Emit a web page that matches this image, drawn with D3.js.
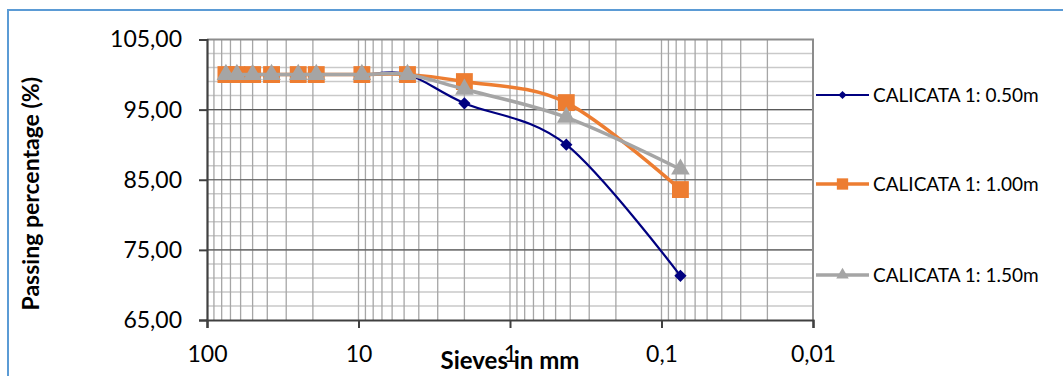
<!DOCTYPE html>
<html>
<head>
<meta charset="utf-8">
<script src="https://cdn.jsdelivr.net/npm/d3@7"></script>
<style>
  body { margin: 0; background: #fff; }
  svg { display: block; font-family: Lato, "Open Sans", sans-serif; }
</style>
</head>
<body>
<div id="chart"></div>
<script>
// Sieve openings (mm) and passing percentages
const sieves = [75, 63.5, 50, 37.5, 25, 19, 9.5, 4.75, 2, 0.425, 0.075];
const calicata050 = [100, 100, 100, 100, 100, 100, 100, 100, 95.9, 90.0, 71.3];
const calicata100 = [100, 100, 100, 100, 100, 100, 100, 100, 99.0, 96.0, 83.6];
const calicata150 = [100, 100, 100, 100, 100, 100, 100, 100, 97.9, 93.9, 86.5];
const seriesNames = ['CALICATA 1: 0.50m', 'CALICATA 1: 1.00m', 'CALICATA 1: 1.50m'];
const xTicks = [100, 10, 1, 0.1, 0.01];
const xTickLabels = ['100', '10', '1', '0,1', '0,01'];
const yTicks = [65, 75, 85, 95, 105];

const width = 1063;
const height = 376;
const plot = { left: 207, right: 813, top: 39.5, bottom: 320 };

const svg = d3
  .select('#chart')
  .append('svg')
  .attr('width', width)
  .attr('height', height);

// outer frame (clipped at right and bottom like the original)
svg
  .append('rect')
  .attr('x', 8)
  .attr('y', 10)
  .attr('width', 1200)
  .attr('height', 500)
  .attr('fill', 'none')
  .attr('stroke', '#5b9bd5')
  .attr('stroke-width', 2);

const x = d3.scaleLog().domain([100, 0.01]).range([plot.left, plot.right]);
const y = d3.scaleLinear().domain([65, 105]).range([plot.bottom, plot.top]);

// minor vertical grid: 2..9 in each decade
const minorX = [];
[10, 1, 0.1, 0.01].forEach((base) => {
  for (let k = 2; k <= 9; k++) minorX.push(base * k);
});

const grid = svg.append('g');

// horizontal minor lines every 2 units
grid
  .selectAll('line.hmin')
  .data(d3.range(67, 105, 2))
  .join('line')
  .attr('x1', plot.left)
  .attr('x2', plot.right)
  .attr('y1', (d) => y(d))
  .attr('y2', (d) => y(d))
  .attr('stroke', '#c9c9c9')
  .attr('stroke-width', 1.5);

grid
  .selectAll('line.vmin')
  .data(minorX.concat([10, 1, 0.1]))
  .join('line')
  .attr('x1', (d) => x(d))
  .attr('x2', (d) => x(d))
  .attr('y1', plot.top)
  .attr('y2', plot.bottom)
  .attr('stroke', '#a6a6a6')
  .attr('stroke-width', 1.3);

// major horizontal lines
grid
  .selectAll('line.hmaj')
  .data([75, 85, 95])
  .join('line')
  .attr('x1', plot.left)
  .attr('x2', plot.right)
  .attr('y1', (d) => y(d))
  .attr('y2', (d) => y(d))
  .attr('stroke', '#595959')
  .attr('stroke-width', 1.2);

// top and right border
svg
  .append('path')
  .attr('d', `M${plot.left},${plot.top}H${plot.right}V${plot.bottom}`)
  .attr('fill', 'none')
  .attr('stroke', '#8c8c8c')
  .attr('stroke-width', 2);

// axes
const yAxis = svg
  .append('g')
  .attr('transform', `translate(${plot.left},0)`)
  .call(
    d3
      .axisLeft(y)
      .tickValues(yTicks)
      .tickSize(8)
      .tickPadding(17)
      .tickFormat((d) => d3.format('.2f')(d).replace('.', ','))
  );

const xAxis = svg
  .append('g')
  .attr('transform', `translate(0,${plot.bottom})`)
  .call(
    d3
      .axisBottom(x)
      .tickValues(xTicks)
      .tickSize(8)
      .tickPadding(18)
      .tickFormat((d, i) => xTickLabels[i])
  );

[yAxis, xAxis].forEach((ax) => {
  ax.select('.domain').attr('stroke', '#404040').attr('stroke-width', 2.2);
  ax.selectAll('.tick line').attr('stroke', '#404040').attr('stroke-width', 2);
  ax.selectAll('.tick text')
    .attr('fill', '#000')
    .style('font-size', '23px')
    .style('font-family', 'Lato, sans-serif');
});

// series (diamond = square turned 45 degrees)
const series = [
  { name: seriesNames[0], values: calicata050, color: '#000080', width: 2.2, symbol: d3.symbolSquare, size: 75, rot: 45 },
  { name: seriesNames[1], values: calicata100, color: '#ed7d31', width: 3.5, symbol: d3.symbolSquare, size: 285, rot: 0 },
  { name: seriesNames[2], values: calicata150, color: '#a5a5a5', width: 3.5, symbol: d3.symbolTriangle, size: 150, rot: 0 },
];

const line = d3
  .line()
  .x((d) => x(d[0]))
  .y((d) => y(d[1]))
  .curve(d3.curveCatmullRom.alpha(0));

series.forEach((s) => {
  const pts = sieves.map((v, i) => [v, s.values[i]]);
  const g = svg.append('g');
  g.append('path')
    .attr('d', line(pts))
    .attr('fill', 'none')
    .attr('stroke', s.color)
    .attr('stroke-width', s.width);
  g.selectAll('path.m')
    .data(pts)
    .join('path')
    .attr('class', 'm')
    .attr('transform', (d) => `translate(${x(d[0])},${y(d[1])}) rotate(${s.rot})`)
    .attr('d', d3.symbol().type(s.symbol).size(s.size))
    .attr('fill', s.color);
});

// legend
const legendY = [95, 184, 275];
const legend = svg
  .selectAll('g.legend')
  .data(series)
  .join('g')
  .attr('class', 'legend')
  .attr('transform', (d, i) => `translate(816,${legendY[i]})`);

legend
  .append('line')
  .attr('x1', 0)
  .attr('x2', 53)
  .attr('stroke', (d) => d.color)
  .attr('stroke-width', (d) => d.width);

legend
  .append('path')
  .attr('transform', (d) => `translate(26.5,0) rotate(${d.rot})`)
  .attr('d', (d) => d3.symbol().type(d.symbol).size(d.size * 0.45)())
  .attr('fill', (d) => d.color);

legend
  .append('text')
  .attr('x', 57)
  .attr('dy', '0.35em')
  .style('font-size', '19px')
  .attr('fill', '#000')
  .text((d) => d.name);

// axis titles
svg
  .append('text')
  .attr('transform', `translate(39,${(plot.top + plot.bottom) / 2 + 14}) rotate(-90)`)
  .attr('text-anchor', 'middle')
  .style('font-size', '23px')
  .style('font-weight', 'bold')
  .text('Passing percentage (%)');

svg
  .append('text')
  .attr('x', 510)
  .attr('y', 369)
  .attr('text-anchor', 'middle')
  .style('font-size', '24px')
  .style('font-weight', 'bold')
  .text('Sieves in mm');
</script>
</body>
</html>
